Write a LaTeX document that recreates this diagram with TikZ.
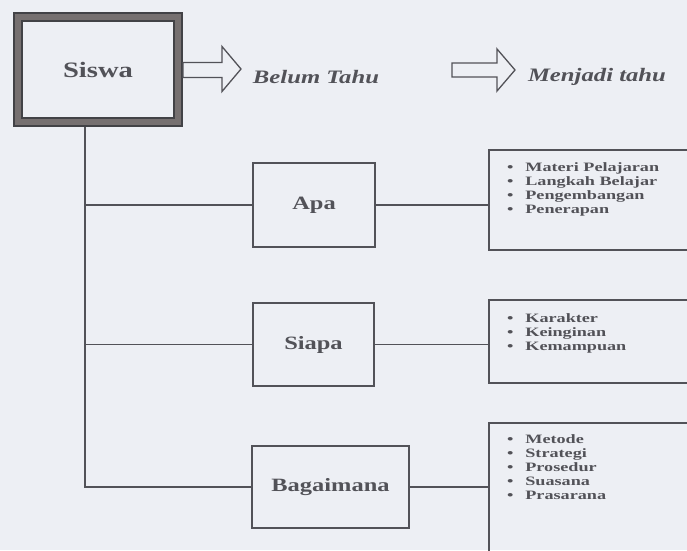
\documentclass[tikz,border=0pt]{standalone}
\usepackage{fontspec}
\newfontfamily\scanfont[FakeStretch=1.3]{Liberation Serif}
\newfontfamily\listfont[FakeStretch=1.42]{Liberation Serif}
\usepackage{tikz}
\usetikzlibrary{positioning}
\definecolor{paper}{RGB}{237, 239, 244}
\definecolor{ink}{RGB}{82, 82, 88}
\definecolor{frame}{RGB}{118, 112, 112}

\begin{document}
\begin{tikzpicture}[x=1pt, y=-1pt, line width=1.4pt, ink,
    box/.style={draw=ink, fill=paper, inner sep=0pt, font=\scanfont\bfseries\fontsize{18.8}{20}\selectfont},
    listbox/.style={draw=ink, inner sep=0pt, minimum width=211pt},
    items/.style={align=left, inner sep=0pt, font=\listfont\bfseries\fontsize{12.8}{14}\selectfont},
    phase/.style={font=\scanfont\bfseries\itshape\fontsize{19}{20}\selectfont},
    hollow/.style={draw=ink, line width=1.3pt, fill=paper, line join=miter}]

  % Page
  \useasboundingbox (0, 0) rectangle (687, 550);
  \clip (0, 0) rectangle (687, 550);
  \fill [paper] (0, 0) rectangle (687, 550);

  % Siswa
  \node [box, draw=ink!80!black, line width=2.4pt, double=frame, double distance=5.2pt,
    minimum width=160pt, minimum height=105pt, outer sep=5pt,
    font=\scanfont\bfseries\fontsize{22}{24}\selectfont] (siswa) at (98, 69.5) {Siswa};

  % Belum Tahu -> Menjadi tahu
  \node [phase] (before) at (316, 77) {Belum Tahu};
  \node [phase] (after) at (597, 77) {Menjadi tahu};
  \draw [hollow] (siswa.east) ++(0, -7) -- ++(39, 0) -- ++(0, -16) -- ++(19, 22.5)
    -- ++(-19, 22.5) -- ++(0, -14) -- ++(-39, 0) -- cycle;
  \draw [hollow] (452, 63) -- (497, 63) -- (497, 49) -- (515, 70) -- (497, 91)
    -- (497, 77) -- (452, 77) -- cycle;

  % Apa, Siapa, Bagaimana
  \node [box, minimum width=122pt, minimum height=84pt] (what) at (314, 205) {Apa};
  \node [box, minimum width=121pt, minimum height=83pt] (who) at (313.5, 344.5) {Siapa};
  \node [box, minimum width=157pt, minimum height=82pt] (how) at (330.5, 487) {Bagaimana};

  % Lists
  \node [listbox, minimum height=100pt] (whatlist) at (594.5, 200) {};
  \node [listbox, minimum height=83pt] (wholist) at (594.5, 341.5) {};
  \node [listbox, minimum height=140pt] (howlist) at (594.5, 493) {};
  \node [items, below right=13pt and 18pt of whatlist.north west] (whatitems)
    {\textbullet\hspace{12pt}Materi Pelajaran\\ \textbullet\hspace{12pt}Langkah Belajar\\
     \textbullet\hspace{12pt}Pengembangan\\ \textbullet\hspace{12pt}Penerapan};
  \node [items, below right=14pt and 18pt of wholist.north west] (whoitems)
    {\textbullet\hspace{12pt}Karakter\\ \textbullet\hspace{12pt}Keinginan\\
     \textbullet\hspace{12pt}Kemampuan};
  \node [items, below right=12pt and 18pt of howlist.north west] (howitems)
    {\textbullet\hspace{12pt}Metode\\ \textbullet\hspace{12pt}Strategi\\
     \textbullet\hspace{12pt}Prosedur\\ \textbullet\hspace{12pt}Suasana\\
     \textbullet\hspace{12pt}Prasarana};

  % Branches
  \coordinate (spine) at (85, 0);
  \draw (siswa.south -| spine) |- (how.west);
  \draw (spine |- what.west) -- (what.west);
  \draw (spine |- who.west) -- (who.west);
  \draw (what.east) -- (what.east -| whatlist.west);
  \draw (who.east) -- (who.east -| wholist.west);
  \draw (how.east) -- (how.east -| howlist.west);

\end{tikzpicture}
\end{document}
